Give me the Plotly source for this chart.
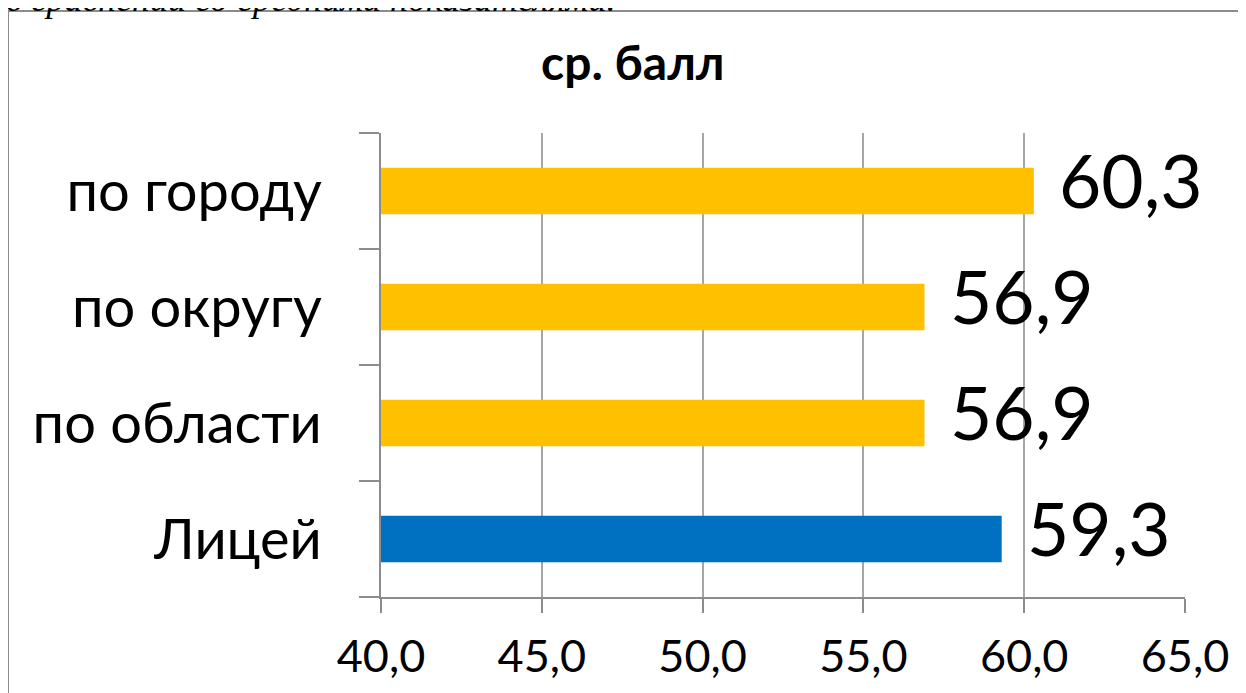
import plotly.graph_objects as go

categories = ["Лицей", "по области", "по округу", "по городу"]
values = [59.3, 56.9, 56.9, 60.3]
bar_colors = ["#0070C0", "#FFC000", "#FFC000", "#FFC000"]
x_ticks = [40, 45, 50, 55, 60, 65]
title_text = "ср. балл"
caption_text = "в сравнении со средними показателями."

FONT = "Lato, 'Noto Sans', sans-serif"
labels = [f"{v:.1f}".replace(".", ",") for v in values]

# plot area in page pixels (page has an 8px body margin)
L, R, T, B = 381, 1185, 133, 597
def px(x):
    return (x - L) / (R - L)
def py(y):
    return (B - y) / (B - T)

fig = go.Figure()
fig.add_trace(go.Bar(
    y=categories, x=values, orientation="h",
    marker=dict(color=bar_colors, line=dict(width=0)),
    hoverinfo="skip",
))

for c, v, t in zip(categories, values, labels):
    fig.add_annotation(x=v, y=c, xref="x", yref="y", text=t, showarrow=False,
                       xanchor="left", yanchor="middle", xshift=23, yshift=11,
                       font=dict(family=FONT, size=73, color="#000000"))

fig.add_annotation(text=f"<b>{title_text}</b>", xref="paper", yref="paper",
                   x=px(633), y=py(61), xanchor="center", yanchor="middle",
                   showarrow=False, font=dict(family=FONT, size=48, color="#000000"))

fig.add_annotation(text=f"<i>{caption_text}</i>", xref="paper", yref="paper",
                   x=px(4), y=py(21), xanchor="left", yanchor="bottom",
                   showarrow=False, font=dict(family="'Liberation Serif', serif", size=36, color="#000000"))

# chart frame
fig.add_shape(type="rect", xref="paper", yref="paper",
              x0=px(8), x1=px(1270), y0=py(740), y1=py(11),
              line=dict(color="#8c8c8c", width=2), fillcolor="rgba(0,0,0,0)", layer="below")

fig.update_layout(
    width=1246, height=693,
    margin=dict(l=373, r=69, t=125, b=104),
    paper_bgcolor="white", plot_bgcolor="white",
    separators=", ",
    bargap=0.6,
    showlegend=False,
    xaxis=dict(range=[40, 65], tickvals=x_ticks, tickformat=".1f",
               showgrid=True, gridcolor="#a6a6a6", gridwidth=2,
               showline=True, linecolor="#8c8c8c", linewidth=2,
               ticks="outside", ticklen=14, tickwidth=2, tickcolor="#8c8c8c",
               tickfont=dict(family=FONT, size=45, color="#000000"),
               ticklabelstandoff=5,
               zeroline=False, fixedrange=True),
    yaxis=dict(categoryorder="array", categoryarray=categories,
               showline=True, linecolor="#8c8c8c", linewidth=2,
               ticks="outside", ticklen=20, tickwidth=2, tickcolor="#8c8c8c",
               tickson="boundaries", showgrid=False,
               tickfont=dict(family=FONT, size=56, color="#000000"),
               ticklabelstandoff=46, fixedrange=True),
)

fig.write_html("out.html")
